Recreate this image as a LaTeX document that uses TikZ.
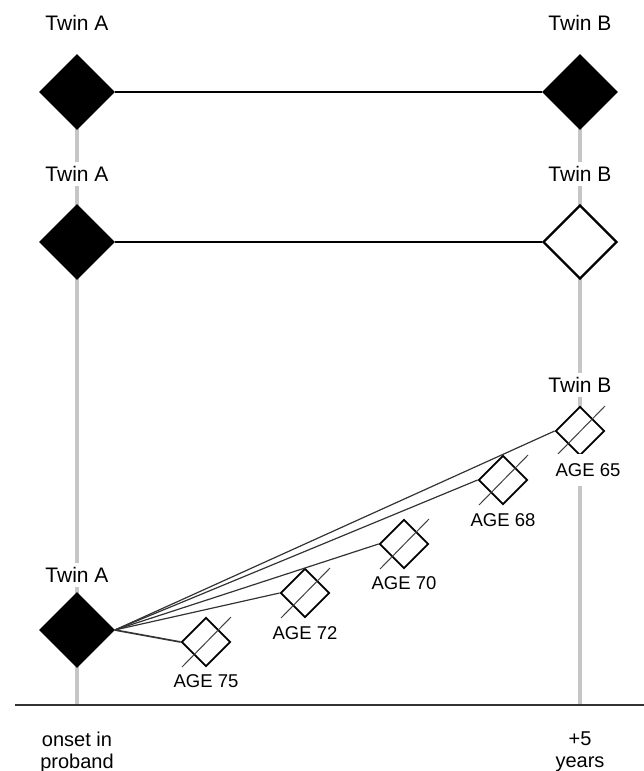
\documentclass[tikz,border=0pt]{standalone}
\usepackage{fontspec}
\setmainfont{Liberation Sans}
\usetikzlibrary{shapes.geometric}
\begin{document}
\begin{tikzpicture}[x=1pt,y=-1pt,
  big/.style={shape=diamond,minimum width=74pt,minimum height=74pt,inner sep=0pt,draw=black,line width=1.6pt},
  bigfull/.style={big,fill=black},
  bigopen/.style={big,fill=white,line width=2.2pt},
  agebox/.style={shape=diamond,minimum width=49pt,minimum height=49pt,inner sep=0pt,draw=black,line width=1.8pt,fill=white},
  twin/.style={font=\fontsize{21}{25}\selectfont,fill=white,inner sep=4pt},
  age/.style={font=\fontsize{18.5}{22}\selectfont,fill=white,inner sep=3pt},
  axis/.style={font=\fontsize{20}{22}\selectfont,align=center},
  vline/.style={draw=gray!45,line width=4.5pt},
  pair/.style={draw=black,line width=2pt},
  conn/.style={draw=black!80,line width=1.2pt},
  slash/.style={draw=black!75,line width=1pt}]
\useasboundingbox (0,0) rectangle (644,771);
% gray vertical lines
\coordinate (lt) at (77,128);
\coordinate (lb) at (77,705);
\coordinate (rt) at (580,128);
\coordinate (rb) at (580,705);
\draw[vline] (lt) -- (lb);
\draw[vline] (rt) -- (rb);
% baseline
\coordinate (b0) at (15,705);
\coordinate (b1) at (644,705);
\draw[draw=black!80,line width=1.4pt] (b0) -- (b1);
% row 1
\node[twin] (ta1) at (77,23) {Twin A};
\node[twin] (tb1) at (580,23) {Twin B};
\node[bigfull] (a1) at (77,92) {};
\node[bigfull] (b1d) at (580,92) {};
\draw[pair] (a1.east) -- (b1d.west);
% row 2
\node[twin] (ta2) at (77,174) {Twin A};
\node[twin] (tb2) at (580,174) {Twin B};
\node[bigfull] (a2) at (77,242) {};
\node[bigopen] (b2) at (580,242) {};
\draw[pair] (a2.east) -- (b2.west);
% row 3
\node[twin] (ta3) at (77,575) {Twin A};
\node[twin] (tb3) at (580,385) {Twin B};
\node[bigfull] (a3) at (77,630) {};
% age boxes positions
\coordinate (c65) at (580,431);
\coordinate (c68) at (503,480);
\coordinate (c70) at (404,544);
\coordinate (c72) at (305,593);
\coordinate (c75) at (206,642);
\node[agebox] (k65) at (c65) {};
\node[agebox] (k68) at (c68) {};
\node[agebox] (k70) at (c70) {};
\node[agebox] (k72) at (c72) {};
\node[agebox] (k75) at (c75) {};
\draw[conn] (a3.east) -- (k65.west);
\draw[conn] (a3.east) -- (k68.west);
\draw[conn] (a3.east) -- (k70.west);
\draw[conn] (a3.east) -- (k72.west);
\draw[conn,line width=1.7pt] (a3.east) -- (k75.west);
\foreach \k in {k65,k68,k70,k72,k75}{
  \draw[slash] (\k.center) ++(-24,25) -- ++(49,-50);
}
\node[age,inner sep=9pt] (l65) at (588,470) {AGE 65};
\node[age] (l68) at (503,520) {AGE 68};
\node[age] (l70) at (404,583) {AGE 70};
\node[age] (l72) at (305,633) {AGE 72};
\node[age] (l75) at (206,681) {AGE 75};
% axis labels
\node[axis] (on) at (77,752) {onset in\\proband};
\node[axis] (p5) at (580,752) {+5\\years};
\end{tikzpicture}
\end{document}
